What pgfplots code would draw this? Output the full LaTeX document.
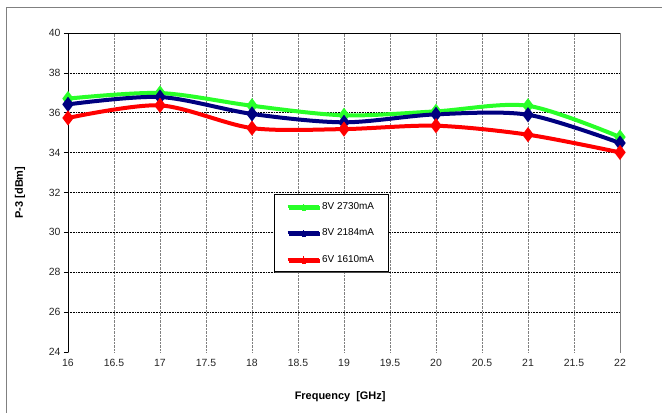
\documentclass[border=0pt]{standalone}
\usepackage{pgfplots}
\pgfplotsset{compat=1.18}
\usepackage{fontspec}
\setmainfont{Liberation Sans}
\usetikzlibrary{shadows}

\definecolor{sergreen}{RGB}{40,255,40}
\definecolor{serblue}{RGB}{0,0,128}
\definecolor{serred}{RGB}{255,0,0}

\begin{document}
\begin{tikzpicture}
\useasboundingbox (-68bp,-61bp) rectangle (594bp,352bp);
\fill[white] (-68bp,-61bp) rectangle (594bp,352bp);
\begin{axis}[
  scale only axis,
  width=552bp, height=319bp,
  xmin=16, xmax=22,
  ymin=24, ymax=40,
  xtick={16,16.5,...,22},
  ytick={24,26,...,40},
  /pgf/number format/assume math mode=true,
  ticklabel style={font=\fontsize{10.5}{12}\selectfont, text=black!85},
  axis x line*=bottom,
  axis y line*=left,
  x axis line style={draw=none},
  y axis line style={black, line width=0.6bp, -},
  xtick style={draw=none},
  ytick style={black, line width=0.6bp},
  tick align=outside,
  major tick length=4bp,
  xmajorgrids=true,
  major grid style={gray, densely dotted, line width=0.6bp},
  extra y ticks={26,28,...,38},
  extra y tick labels={},
  extra y tick style={ymajorgrids=true, major grid style={black, densely dotted, line width=0.6bp}, ytick style={draw=none}},
  xlabel={Frequency\ \ [GHz]},
  ylabel={P-3 [dBm]},
  xlabel style={font=\fontsize{11}{13}\selectfont\bfseries, at={(axis description cs:0.493,0)}, anchor=center, yshift=-45bp},
  ylabel style={font=\fontsize{11}{13}\selectfont\bfseries, at={(axis description cs:-0.087,0.5)}, anchor=center},
  legend style={at={(0.373,0.495)}, anchor=north west, draw=black, fill=white,
    font=\fontsize{10}{12}\selectfont, row sep=14bp, inner xsep=12bp, inner ysep=6bp,
    drop shadow={shadow xshift=1.2bp, shadow yshift=-1.2bp, fill=black!70, opacity=1},
    cells={anchor=west}},
  legend image code/.code={
    \draw[#1, mark=none, line width=3bp] (0bp,0bp) -- (31bp,0bp);
    \draw[#1, mark=none, line width=0.9bp] (15.5bp,-3bp) -- (15.5bp,3bp);
  },
  every axis plot/.append style={line width=4bp, smooth, tension=0.5, mark=diamond*, mark size=4.3bp, mark options={solid, line width=0.5bp}},
  clip=false,
]
\draw[black, line width=0.8bp] (axis cs:16,40) -- (axis cs:22,40);
\draw[gray, line width=0.7bp] (axis cs:22,24) -- (axis cs:22,40);

\addplot[color=sergreen, mark options={fill=sergreen, draw=sergreen}] coordinates {
(16,36.71)(17,36.99)(18,36.35)(19,35.87)(20,36.07)(21,36.35)(22,34.78)
};
\addlegendentry{8V 2730mA}

\addplot[color=serblue, mark options={fill=serblue, draw=serblue}] coordinates {
(16,36.42)(17,36.79)(18,35.94)(19,35.52)(20,35.92)(21,35.90)(22,34.48)
};
\addlegendentry{8V 2184mA}

\addplot[color=serred, mark options={fill=serred, draw=serred}] coordinates {
(16,35.74)(17,36.37)(18,35.23)(19,35.18)(20,35.35)(21,34.90)(22,34.01)
};
\addlegendentry{6V 1610mA}
\end{axis}
\draw[gray, line width=0.8bp] (-62bp,-70bp) -- (-62bp,345bp) -- (600bp,345bp);
\end{tikzpicture}
\end{document}
